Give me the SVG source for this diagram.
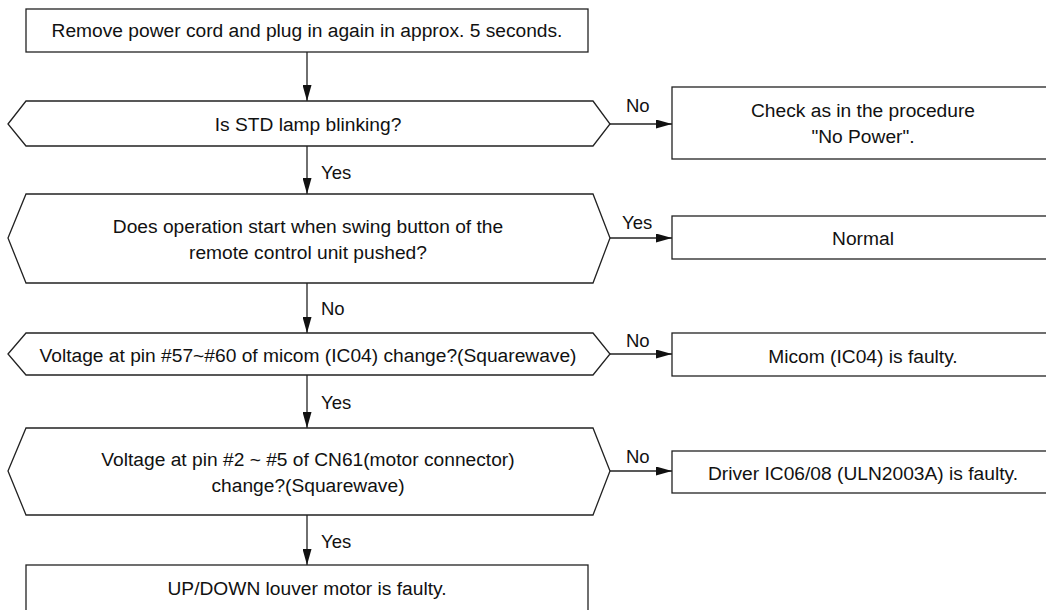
<svg xmlns="http://www.w3.org/2000/svg" width="1046" height="610" viewBox="0 0 1046 610">
<style>
.n{fill:#fff;stroke:#222;stroke-width:1.3}
.t{font-family:"Liberation Sans",Arial,sans-serif;font-size:19.2px;fill:#111;text-anchor:middle;dominant-baseline:central}
.l{font-family:"Liberation Sans",Arial,sans-serif;font-size:18.5px;fill:#111;dominant-baseline:central}
.c{stroke:#222;stroke-width:1.3;fill:none;marker-end:url(#ah)}
</style>
<defs>
<marker id="ah" markerUnits="userSpaceOnUse" markerWidth="16" markerHeight="9" refX="16" refY="4.5" orient="auto">
<path d="M0,0 L16,4.5 L0,9 z" fill="#111"/>
</marker>
</defs>
<rect width="1046" height="610" fill="#fff"/>
<g id="connectors">
<line class="c" x1="307" y1="52" x2="307" y2="101"/>
<line class="c" x1="307" y1="146" x2="307" y2="194"/>
<line class="c" x1="307" y1="283" x2="307" y2="333"/>
<line class="c" x1="307" y1="375" x2="307" y2="428"/>
<line class="c" x1="307" y1="515" x2="307" y2="565"/>
<line class="c" x1="610" y1="124" x2="672" y2="124"/>
<line class="c" x1="610" y1="238" x2="672" y2="238"/>
<line class="c" x1="610" y1="354" x2="672" y2="354"/>
<line class="c" x1="610" y1="471" x2="672" y2="471"/>
<text class="l" x="321" y="172">Yes</text>
<text class="l" x="321" y="308">No</text>
<text class="l" x="321" y="402">Yes</text>
<text class="l" x="321" y="541">Yes</text>
<text class="l" x="626" y="105">No</text>
<text class="l" x="622" y="222">Yes</text>
<text class="l" x="626" y="340">No</text>
<text class="l" x="626" y="456">No</text>
</g>
<g id="start">
<rect class="n" x="26" y="9" width="562" height="43"/>
<text class="t" x="307" y="30">Remove power cord and plug in again in approx. 5 seconds.</text>
</g>
<g id="q1">
<polygon class="n" points="8,124 26,101 593,101 610,124 593,146 26,146"/>
<text class="t" x="308" y="124">Is STD lamp blinking?</text>
</g>
<g id="nopower">
<rect class="n" x="672" y="87" width="380" height="72"/>
<text class="t" x="863" y="110">Check as in the procedure</text>
<text class="t" x="863" y="136">"No Power".</text>
</g>
<g id="q2">
<polygon class="n" points="8,238 26,194 593,194 610,238 593,283 26,283"/>
<text class="t" x="308" y="226">Does operation start when swing button of the</text>
<text class="t" x="308" y="252">remote control unit pushed?</text>
</g>
<g id="normal">
<rect class="n" x="672" y="216" width="380" height="43"/>
<text class="t" x="863" y="238">Normal</text>
</g>
<g id="q3">
<polygon class="n" points="8,354 26,333 593,333 610,354 593,375 26,375"/>
<text class="t" x="308" y="355">Voltage at pin #57~#60 of micom (IC04) change?(Squarewave)</text>
</g>
<g id="micom">
<rect class="n" x="672" y="333" width="380" height="43"/>
<text class="t" x="863" y="356">Micom (IC04) is faulty.</text>
</g>
<g id="q4">
<polygon class="n" points="8,471 26,428 593,428 610,471 593,515 26,515"/>
<text class="t" x="308" y="459">Voltage at pin #2 ~ #5 of CN61(motor connector)</text>
<text class="t" x="308" y="485">change?(Squarewave)</text>
</g>
<g id="driver">
<rect class="n" x="672" y="451" width="380" height="42"/>
<text class="t" x="863" y="473">Driver IC06/08 (ULN2003A) is faulty.</text>
</g>
<g id="motor">
<rect class="n" x="26" y="565" width="562" height="50"/>
<text class="t" x="307" y="588">UP/DOWN louver motor is faulty.</text>
</g>
</svg>
